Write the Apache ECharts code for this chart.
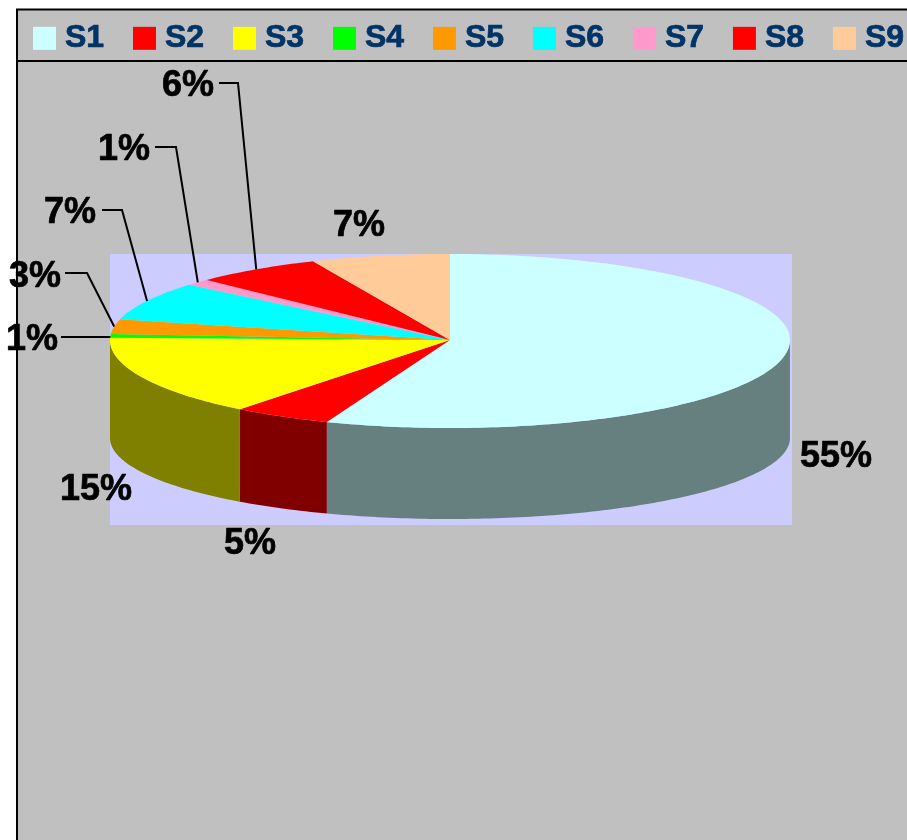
<!DOCTYPE html>
<html>
<head>
<meta charset="utf-8">
<style>
  html, body { margin: 0; padding: 0; background: #fff; overflow: hidden; }
  #chart { width: 907px; height: 840px; }
</style>
</head>
<body>
<div id="chart"></div>
<script src="https://cdn.jsdelivr.net/npm/echarts@6/dist/echarts.min.js"></script>
<script>
var sliceNames = ["S1", "S2", "S3", "S4", "S5", "S6", "S7", "S8", "S9"];
var sliceShares = [55.9, 4.7, 14.8, 0.7, 2.8, 7.2, 1.2, 6.1, 6.6];
var sliceLabels = ["55%", "5%", "15%", "1%", "3%", "7%", "1%", "6%", "7%"];
var topColors = ["#CCFFFF", "#FF0000", "#FFFF00", "#00FF00", "#FF9900", "#00FFFF", "#FF99CC", "#FF0000", "#FFCC99"];
var sideColors = ["#668080", "#800000", "#808000", "#008000", "#804C00", "#008080", "#804C66", "#800000", "#80664C"];

// label centre in px, and the elbow of the leader line (null = no leader)
var labelSpots = [[836, 457], [250, 544], [96, 490], [32, 340], [35, 277], [70, 213], [124, 150], [188, 86], [359, 226]];
var leaderStarts = [null, null, null, [61, 337], [65, 273], [102, 210], [155, 147], [219, 83], null];
var leaderElbows = [null, null, null, null, [87, 273], [122, 210], [176, 147], [238, 83], null];

// the tilt makes the front of the pie a bit deeper than the back, units = back radius
var frontStretch = 88 / 86;
var floorDrop = 98 / 86;
var floorStretch = 81 / 86;
var fontFamily = '"Liberation Sans", Arial, sans-serif';

function rim(angle) {
  // angle in degrees, clockwise from 12 o'clock
  var r = angle * Math.PI / 180;
  var c = Math.cos(r);
  return [Math.sin(r), c < 0 ? c * frontStretch : c];
}

function floorRim(angle) {
  var r = angle * Math.PI / 180;
  return [Math.sin(r), Math.cos(r) * floorStretch - floorDrop];
}

function renderSlice(index) {
  return function (params, api) {
    var from = api.value(0) * 3.6;
    var to = api.value(1) * 3.6;
    var children = [];
    var a, pts;

    // side wall, only the front half of the rim shows
    var sideFrom = Math.max(from, 90);
    var sideTo = Math.min(to, 270);
    if (sideTo > sideFrom) {
      pts = [];
      for (a = sideFrom; a < sideTo; a += 1) {
        pts.push(api.coord(rim(a)));
      }
      pts.push(api.coord(rim(sideTo)));
      pts.push(api.coord(floorRim(sideTo)));
      for (a = sideTo - 1; a > sideFrom; a -= 1) {
        pts.push(api.coord(floorRim(a)));
      }
      pts.push(api.coord(floorRim(sideFrom)));
      children.push({
        type: "polygon",
        shape: { points: pts },
        style: { fill: sideColors[index] }
      });
    }

    // top face
    pts = [api.coord([0, 0])];
    for (a = from; a < to; a += 1) {
      pts.push(api.coord(rim(a)));
    }
    pts.push(api.coord(rim(to)));
    children.push({
      type: "polygon",
      shape: { points: pts },
      style: { fill: topColors[index] }
    });

    // leader line runs to the middle of the slice's rim
    if (leaderStarts[index]) {
      var end = api.coord(rim((from + to) / 2));
      var line = [leaderStarts[index]];
      if (leaderElbows[index]) {
        line.push(leaderElbows[index]);
      } else {
        end = [end[0], leaderStarts[index][1]];
      }
      line.push(end);
      children.push({
        type: "polyline",
        shape: { points: line },
        style: { stroke: "#000", lineWidth: 2, fill: null }
      });
    }

    children.push({
      type: "text",
      style: {
        x: labelSpots[index][0],
        y: labelSpots[index][1],
        text: sliceLabels[index],
        fill: "#000",
        stroke: "#000",
        lineWidth: 0.7,
        font: "bold 36px " + fontFamily,
        align: "center",
        verticalAlign: "middle"
      }
    });

    return { type: "group", children: children };
  };
}

var seriesList = [];
var total = 0;
sliceNames.forEach(function (name, i) {
  seriesList.push({
    name: name,
    type: "custom",
    silent: true,
    clip: false,
    itemStyle: { color: topColors[i] },
    data: [[total, total + sliceShares[i]]],
    encode: { x: -1, y: -1 },
    renderItem: renderSlice(i)
  });
  total += sliceShares[i];
});

var myChart = echarts.init(document.getElementById("chart"));
myChart.setOption({
  animation: false,
  backgroundColor: "#fff",
  graphic: [
    {
      type: "rect",
      z: -10,
      shape: { x: 17, y: 9.5, width: 1000, height: 1000 },
      style: { fill: "#C0C0C0", stroke: "#000", lineWidth: 2 }
    },
    {
      type: "line",
      z: -9,
      shape: { x1: 17, y1: 61, x2: 907, y2: 61 },
      style: { stroke: "#000", lineWidth: 2 }
    }
  ],
  legend: {
    left: 33,
    top: 22,
    width: 1000,
    padding: 0,
    itemWidth: 23,
    itemHeight: 23,
    itemGap: 28.5,
    icon: "rect",
    data: sliceNames,
    selectedMode: false,
    textStyle: {
      color: "#003366",
      fontFamily: fontFamily,
      fontWeight: "bold",
      fontSize: 32,
      lineHeight: 23,
      textBorderColor: "#003366",
      textBorderWidth: 0.7,
      padding: [2, 0, 0, 4]
    }
  },
  grid: {
    left: 110,
    top: 254,
    width: 682,
    height: 271,
    show: true,
    backgroundColor: "#CCCCFF",
    borderWidth: 0
  },
  xAxis: { type: "value", min: -1, max: 1.006, show: false },
  yAxis: { type: "value", min: -2.151, max: 1, show: false },
  series: seriesList
});
</script>
</body>
</html>
